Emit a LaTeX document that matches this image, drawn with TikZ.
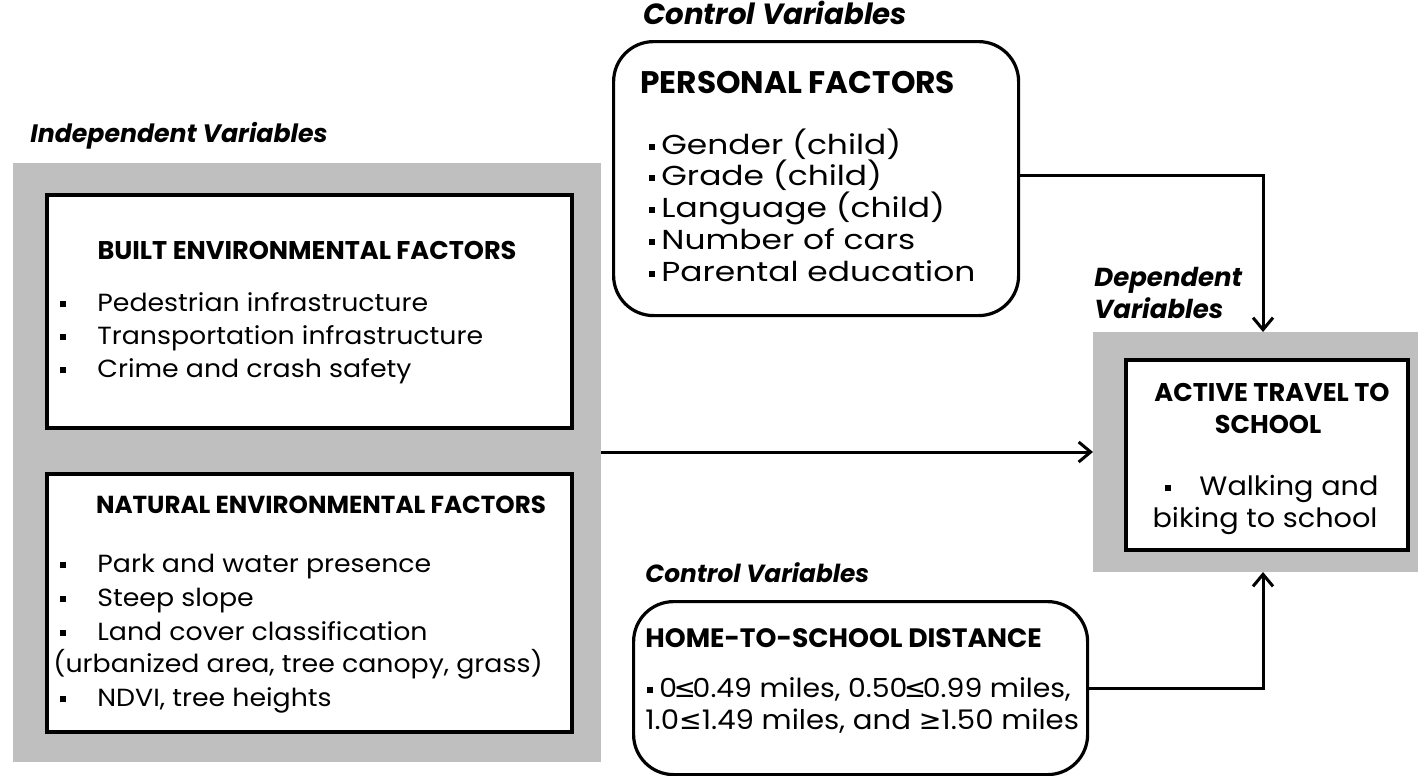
\documentclass[tikz,border=0pt]{standalone}
\usepackage{fontspec}
\setmainfont{Poppins}
\newfontfamily\widefont[FakeStretch=1.08]{Poppins}
\newfontfamily\widerfont[FakeStretch=1.2]{Poppins}
\newfontfamily\symfont{DejaVu Sans}
\usetikzlibrary{arrows.meta}
\definecolor{panelgrey}{RGB}{191,191,191}
\newcommand\sqbullet{\rule[0.3ex]{3pt}{3pt}}
\newcommand\lessq{{\symfont ≤}}
\newcommand\tightlessq{{\kern-1.6pt\symfont ≤\kern-1.6pt}}
\newcommand\moreq{{\symfont ≥}}
\tikzset{
  panel/.style={fill=panelgrey, draw=none, inner sep=0pt, outer sep=0pt, anchor=north west},
  factorbox/.style={draw=black, line width=2pt, fill=white, inner sep=0pt, anchor=north west},
  controlbox/.style={draw=black, line width=1.6pt, fill=white, rounded corners=20pt, inner sep=0pt, anchor=north west},
  caption/.style={font=\fontsize{12.6}{15}\selectfont\bfseries\itshape, anchor=mid west, inner sep=0pt},
  heading/.style={font=\fontsize{12.8}{15}\selectfont\bfseries, inner sep=0pt},
  item/.style={font=\widefont\fontsize{12.4}{15}\selectfont, anchor=mid west, inner sep=0pt},
  bigitem/.style={item, font=\widerfont\fontsize{13.7}{16}\selectfont},
  miditem/.style={item, font=\widefont\fontsize{13.3}{16}\selectfont},
  conn/.style={line width=1.5pt, -{Straight Barb[length=6pt,width=10pt]}},
}
\begin{document}
\begin{tikzpicture}[x=0.5pt,y=-0.5pt]
\useasboundingbox (0,0) rectangle (1424,776);

% ---- independent variables ----
\node[caption] (indlabel) at (30,137) {Independent Variables};
\node[panel, minimum width=294pt, minimum height=299.5pt] (indep) at (13,163) {};
\node[factorbox, minimum width=262.5pt, minimum height=116.5pt] (built) at (45,193) {};
\node[factorbox, minimum width=262.5pt, minimum height=129pt] (natural) at (45,472) {};

\node[heading] (builthead) at (307,250) {BUILT ENVIRONMENTAL FACTORS};
\node[item] (b1) at (60,306) {\makebox[18.5pt][l]{\sqbullet}Pedestrian infrastructure};
\node[item] (b2) at (60,339) {\makebox[18.5pt][l]{\sqbullet}Transportation infrastructure};
\node[item] (b3) at (60,372) {\makebox[18.5pt][l]{\sqbullet}Crime and crash safety};

\node[heading, font=\fontsize{12.3}{15}\selectfont\bfseries] (naturalhead) at (321,505) {NATURAL ENVIRONMENTAL FACTORS};
\node[item] (n1) at (60,567) {\makebox[18.5pt][l]{\sqbullet}Park and water presence};
\node[item] (n2) at (60,601) {\makebox[18.5pt][l]{\sqbullet}Steep slope};
\node[item] (n3) at (60,635) {\makebox[18.5pt][l]{\sqbullet}Land cover classification};
\node[item] (n4) at (53,667) {(urbanized area, tree canopy, grass)};
\node[item] (n5) at (60,701) {\makebox[18.5pt][l]{\sqbullet}NDVI, tree heights};

% ---- personal factors ----
\node[caption, font=\fontsize{14.6}{17}\selectfont\bfseries\itshape] (ctrl1) at (643,19) {Control Variables};
\node[controlbox, minimum width=202.5pt, minimum height=137pt] (personal) at (612,40) {};
\node[heading, anchor=mid west, font=\fontsize{15.6}{18}\selectfont\bfseries] (personalhead) at (640,88) {PERSONAL FACTORS};
\node[bigitem] (p1) at (649,149) {\sqbullet\hspace{3pt}Gender (child)};
\node[bigitem] (p2) at (649,180) {\sqbullet\hspace{3pt}Grade (child)};
\node[bigitem] (p3) at (649,212) {\sqbullet\hspace{3pt}Language (child)};
\node[bigitem] (p4) at (649,244) {\sqbullet\hspace{3pt}Number of cars};
\node[bigitem] (p5) at (649,276) {\sqbullet\hspace{3pt}Parental education};

% ---- dependent variable ----
\node[caption, font=\fontsize{13}{15}\selectfont\bfseries\itshape] (deplabel1) at (1094,281) {Dependent};
\node[caption, font=\fontsize{13}{15}\selectfont\bfseries\itshape] (deplabel2) at (1094,313) {Variables};
\node[panel, minimum width=162.5pt, minimum height=120pt] (dep) at (1093,332) {};
\node[factorbox, minimum width=141pt, minimum height=95pt] (active) at (1124,358) {};
\node[heading, font=\fontsize{12.8}{15}\selectfont\bfseries] (activehead1) at (1272,392) {ACTIVE TRAVEL TO};
\node[heading, font=\fontsize{12.8}{15}\selectfont\bfseries] (activehead2) at (1268,424) {SCHOOL};
\node[miditem, anchor=mid] (a1) at (1272,490) {\sqbullet\hspace{14pt}Walking and};
\node[miditem, anchor=mid] (a2) at (1265,522) {biking to school};

% ---- home-to-school distance ----
\node[caption, font=\fontsize{12.4}{15}\selectfont\bfseries\itshape] (ctrl2) at (645,577) {Control Variables};
\node[controlbox, minimum width=227pt, minimum height=86.5pt] (home) at (632,600) {};
\node[heading, anchor=mid west, font=\fontsize{13.3}{16}\selectfont\bfseries] (homehead) at (645,642) {HOME-TO-SCHOOL DISTANCE};
\node[miditem, font=\widefont\fontsize{13.1}{16}\selectfont] (h1) at (647,692) {\sqbullet\hspace{3pt}0\tightlessq0.49 miles, 0.50\tightlessq0.99 miles,};
\node[miditem, font=\widefont\fontsize{13.5}{16}\selectfont] (h2) at (645,724) {1.0\lessq1.49 miles, and \moreq1.50 miles};

% ---- connectors ----
\coordinate (deptop) at ([xshift=3.75pt]dep.north);
\coordinate (depbottom) at ([xshift=3.75pt]dep.south);
\draw[conn] (dep.west -| indep.east) -- (dep.west);
\draw[conn] (personal.east |- p2.west) -| (deptop);
\draw[conn] (home.east) -| (depbottom);
\end{tikzpicture}
\end{document}
